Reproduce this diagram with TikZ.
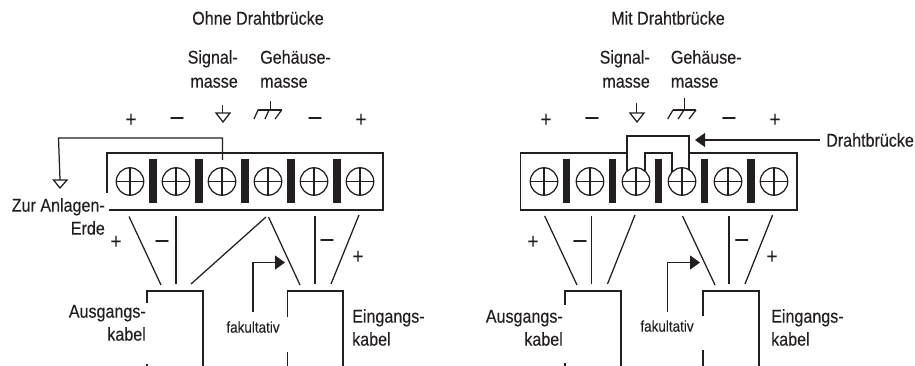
\documentclass[tikz,border=0pt]{standalone}
\usepackage{fontspec}
\setmainfont[FakeStretch=0.87,FakeBold=0.25]{Liberation Sans}
\usetikzlibrary{arrows.meta}
\definecolor{ink}{HTML}{231F20}
\tikzset{
  wire/.style={draw=ink,line width=1.25pt},
  thin edge/.style={draw=ink,line width=1.25pt},
  bold wire/.style={draw=ink,line width=2pt},
  arrowline/.style={draw=ink,line width=1.25pt,-{Triangle[length=10pt,width=14pt,fill=ink]}},
  screw/.style={circle,draw=ink,line width=1.25pt,fill=white,minimum size=27.5pt,inner sep=0pt},
  sep bar/.style={fill=ink,draw=none,minimum width=7.5pt,minimum height=43.5pt,inner sep=0pt},
  lab/.style={text=ink,font=\fontsize{18.5}{20}\selectfont,inner sep=0pt},
  labl/.style={lab,anchor=mid west},
  labr/.style={lab,anchor=mid east},
  labc/.style={lab,anchor=mid},
  smalllab/.style={lab,anchor=mid,font=\fontsize{15.5}{17}\selectfont},
  plusm/.style={text=ink,font=\fontsize{22}{22}\selectfont,inner sep=0pt,anchor=mid},
  minusm/.style={text=ink,font=\fontsize{26}{26}\selectfont,inner sep=0pt,anchor=mid},
}
\begin{document}
\begin{tikzpicture}[x=1pt,y=-1pt]
\useasboundingbox (0,0) rectangle (915,366);
% ---------- left panel ----------
\node[labc] (lt) at (258,22) {Ohne Drahtbrücke};
\node[labr] (ls1) at (238,61) {Signal-};
\node[labr] (ls2) at (238,85) {masse};
\node[labl] (lg1) at (260,61) {Gehäuse-};
\node[labl] (lg2) at (260,85) {masse};
\node[plusm] (lp1) at (131,124) {+};
\node[minusm] (lm1) at (177,122) {–};
\node[minusm] (lm2) at (315,122) {–};
\node[plusm] (lp2) at (361,124) {+};
% block, open at lower left
\draw[thin edge] (107,193) -- (107,153) -- (383,153) -- (383,210) -- (109,210);
\foreach \n/\x in {1/130,2/176,3/222,4/268,5/314,6/360}{
  \node[screw] (L\n) at (\x,181.5) {};
  \draw[line width=1.8pt,draw=ink] (L\n.north) -- (L\n.south) (L\n.west) -- (L\n.east);
}
\foreach \n/\x in {1/153,2/199,3/245,4/291,5/337}{
  \node[sep bar] (LB\n) at (\x,181) {};
}
% signal ground
\coordinate (ls3) at (222.7,105);
\coordinate (ls4) at (222.7,113);
\coordinate (ls5) at (216,113);
\coordinate (ls6) at (230,113);
\coordinate (ls7) at (223,122);
\draw[wire] (ls3) -- (ls4);
\draw[wire] (ls5) -- (ls6) -- (ls7) -- cycle;
% chassis ground
\draw[wire] (270.7,101) -- (270.7,110);
\draw[wire] (258,110) -- (281.7,110);
\draw[wire] (258,110) -- (254,119) (269,110) -- (265,119) (281.7,110) -- (275,119);
% earth wire
\coordinate (le1) at (222.5,160);
\coordinate (le2) at (222.5,138);
\coordinate (le3) at (58.5,138);
\coordinate (le4) at (60,180);
\draw[wire] (le1) -- (le2) -- (le3) -- (le4);
\draw[wire] (53.5,180) -- (67,180) -- (60,188) -- cycle;
\node[labr] (lz1) at (105,209) {Zur Anlagen-};
\node[labr] (lz2) at (105,232) {Erde};
\node[plusm] (lp3) at (116,246) {+};
\node[minusm] (lm3) at (162,245) {–};
\node[minusm] (lm4) at (327,244) {–};
\node[plusm] (lp4) at (358,261) {+};
% cable wires
\draw[wire] (129,216.5) -- (161,285);
\draw[wire] (176,216) -- (176,284);
\draw[wire] (266,217) -- (191,284);
\draw[wire] (268.5,217) -- (300,285);
\draw[wire] (315,216) -- (315,284);
\draw[wire] (359,215) -- (331,284);
% cables
\draw[thin edge] (147,303) -- (147,291) -- (203,291) -- (203,366);
\draw[thin edge] (147,364) -- (147,366);
\draw[thin edge] (287.5,317) -- (287.5,291) -- (343,291) -- (343,366);
\draw[thin edge] (287.5,351.5) -- (287.5,366);
\node[labr] (la1) at (146,315) {Ausgangs-};
\node[labr] (la2) at (146,338) {kabel};
\node[labl] (li1) at (352,320) {Eingangs-};
\node[labl] (li2) at (352,343) {kabel};
\node[smalllab] (lf) at (253,330) {fakultativ};
\coordinate (lf1) at (253,312);
\coordinate (lf2) at (253,262.5);
\coordinate (lf3) at (285,262.5);
\draw[arrowline] (lf1) -- (lf2) -- (lf3);
% ---------- right panel ----------
\node[labc] (rt) at (668,22) {Mit Drahtbrücke};
\node[labr] (rs1) at (650,61) {Signal-};
\node[labr] (rs2) at (650,85) {masse};
\node[labl] (rg1) at (670.7,61) {Gehäuse-};
\node[labl] (rg2) at (670.7,85) {masse};
\node[plusm] (rp1) at (546,124) {+};
\node[minusm] (rm1) at (592,122) {–};
\node[minusm] (rm2) at (729,122) {–};
\node[plusm] (rp2) at (775,124) {+};
% block, top edge broken by the jumper
\draw[thin edge] (626.7,153) -- (520.7,153) -- (520.7,210) -- (797,210) -- (797,153) -- (689.3,153);
% jumper
\coordinate (j1) at (626.7,172);
\coordinate (j2) at (626.7,136);
\coordinate (j3) at (689.3,136);
\coordinate (j4) at (689.3,172);
\coordinate (j5) at (645,172);
\coordinate (j6) at (645,153);
\coordinate (j7) at (671.7,153);
\coordinate (j8) at (671.7,172);
\draw[bold wire] (j1) -- (j2) -- (j3) -- (j4);
\draw[bold wire] (j5) -- (j6) -- (j7) -- (j8);
\foreach \n/\x in {1/544,2/590,3/636,4/682,5/728,6/774}{
  \node[screw] (R\n) at (\x,181.5) {};
  \draw[line width=1.8pt,draw=ink] (R\n.north) -- (R\n.south) (R\n.west) -- (R\n.east);
}
\foreach \n/\x in {1/566.7,2/612.7,3/658.7,4/704.7,5/751}{
  \node[sep bar] (RB\n) at (\x,181) {};
}
% signal ground
\draw[wire] (636.7,103) -- (636.7,113);
\draw[wire] (630,113) -- (644,113) -- (637,122) -- cycle;
% chassis ground
\draw[wire] (684.3,98) -- (684.3,110);
\draw[wire] (673,110) -- (696,110);
\draw[wire] (673,110) -- (667.7,119) (684,110) -- (678,119) (696,110) -- (689,119);
% jumper label
\node[labl] (rd) at (826,144) {Drahtbrücke};
\coordinate (rd1) at (820,140);
\coordinate (rd2) at (695,140);
\draw[arrowline] (rd1) -- (rd2);
\node[plusm] (rp3) at (533,246) {+};
\node[minusm] (rm3) at (580,245) {–};
\node[minusm] (rm4) at (741.7,244) {–};
\node[plusm] (rp4) at (772,261) {+};
% cable wires
\draw[wire] (544.7,216) -- (577,285);
\draw[wire] (591.7,216) -- (591.7,284);
\draw[wire] (635,215) -- (607.5,284);
\draw[wire] (682.5,216) -- (715,285);
\draw[wire] (729,216) -- (729,284);
\draw[wire] (772.6,215) -- (745,284);
% cables
\draw[thin edge] (565,305) -- (565,291) -- (621,291) -- (621,366);
\draw[thin edge] (565,363) -- (565,366);
\draw[thin edge] (703,316) -- (703,291) -- (759,291) -- (759,366);
\draw[thin edge] (703,350) -- (703,366);
\node[labr] (ra1) at (563,320) {Ausgangs-};
\node[labr] (ra2) at (563,343) {kabel};
\node[labl] (ri1) at (771,320) {Eingangs-};
\node[labl] (ri2) at (771,343) {kabel};
\node[smalllab] (rf) at (667,329) {fakultativ};
\coordinate (rf1) at (667.7,312);
\coordinate (rf2) at (667.7,262.5);
\coordinate (rf3) at (700,262.5);
\draw[arrowline] (rf1) -- (rf2) -- (rf3);
\end{tikzpicture}
\end{document}
